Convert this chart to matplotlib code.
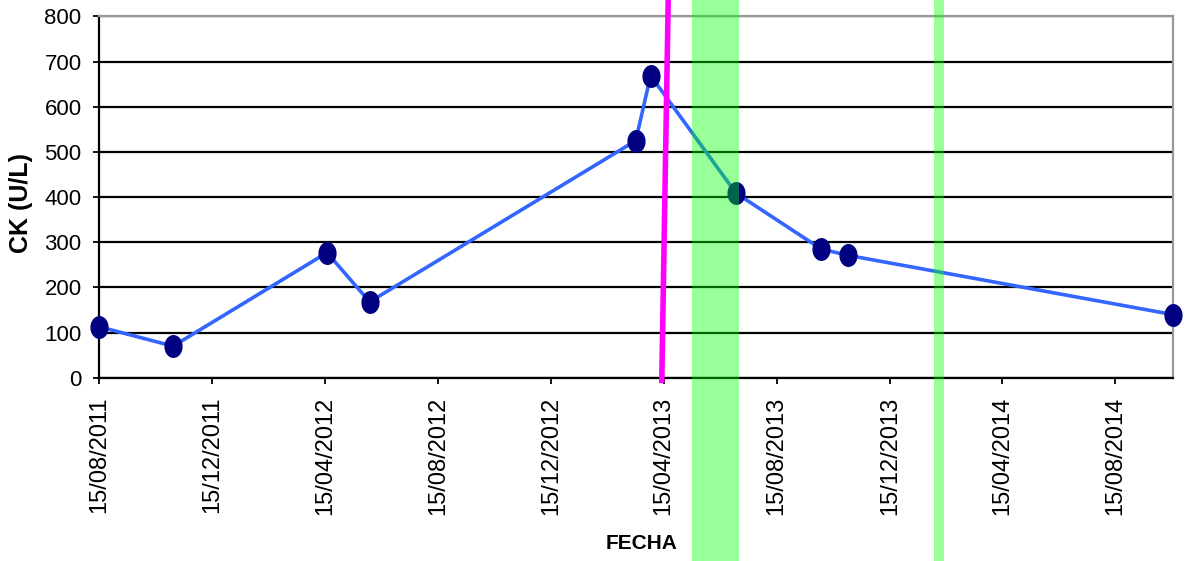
import datetime as dt
import numpy as np
import matplotlib
matplotlib.use("Agg")
import matplotlib.pyplot as plt
from matplotlib.path import Path

# --------------------------------------------------------
# Data
# --------------------------------------------------------
fechas = ["2011-08-15", "2011-11-03", "2012-04-17", "2012-06-02", "2013-03-16",
          "2013-04-01", "2013-07-02", "2013-10-02", "2013-10-31", "2014-10-16"]
ck = [113, 70, 277, 168, 525, 669, 409, 285, 271, 140]

tick_fechas = ["2011-08-15", "2011-12-15", "2012-04-15", "2012-08-15", "2012-12-15",
               "2013-04-15", "2013-08-15", "2013-12-15", "2014-04-15", "2014-08-15"]
tick_labels = ["15/08/2011", "15/12/2011", "15/04/2012", "15/08/2012", "15/12/2012",
               "15/04/2013", "15/08/2013", "15/12/2013", "15/04/2014", "15/08/2014"]
y_ticks = [0, 100, 200, 300, 400, 500, 600, 700, 800]

# periods shaded in green
bandas = [("2013-05-16", "2013-07-05"), ("2014-02-01", "2014-02-11")]
# slanted magenta marker line (start, end) as (date, value)
linea_magenta = [("2013-04-20", 837), ("2013-04-13", -12)]


def d(s):
    return dt.datetime.strptime(s, "%Y-%m-%d")


x = [d(s) for s in fechas]

# ellipse marker, taller than wide
t = np.linspace(0, 2 * np.pi, 60)
elipse = Path(np.column_stack([0.78 * np.cos(t), np.sin(t)]), closed=True)

fig = plt.figure(figsize=(11.88, 5.61), dpi=100)
ax = fig.add_axes([0.0833, 0.3267, 0.9037, 0.6439])

ax.set_xlim(d(fechas[0]), d(fechas[-1]))
ax.set_ylim(0, 800)

ax.set_yticks(y_ticks)
ax.yaxis.grid(True, color="black", linewidth=1.6, zorder=0)
ax.set_axisbelow(True)

ax.plot(x, ck, color="#3366FF", linewidth=2.6, marker=elipse, markersize=15.5,
        markerfacecolor="#000080", markeredgecolor="#000080", clip_on=False, zorder=3)

# magenta line
mx = [d(p[0]) for p in linea_magenta]
my = [p[1] for p in linea_magenta]
ax.plot(mx, my, color="#FF00FF", linewidth=4, clip_on=False, zorder=4,
        solid_capstyle="butt")

# green bands over everything, across the whole figure height
for a, b in bandas:
    ax.axvspan(d(a), d(b), ymin=-0.6, ymax=1.1, color="#00FF00", alpha=0.4,
               linewidth=0, clip_on=False, zorder=5)

ax.set_xticks([d(s) for s in tick_fechas])
ax.set_xticklabels(tick_labels, rotation=90, family=["Liberation Sans"], fontsize=17)
ax.set_yticklabels([str(v) for v in y_ticks], family=["Liberation Sans"], fontsize=16)

ax.tick_params(axis="x", direction="out", length=4.5, width=1.3, pad=9, colors="black")
ax.tick_params(axis="y", direction="out", length=4.5, width=1.3, pad=8, colors="black")

for s in ["left", "bottom"]:
    ax.spines[s].set_color("black")
    ax.spines[s].set_linewidth(1.6)
for s in ["top", "right"]:
    ax.spines[s].set_color("#999999")
    ax.spines[s].set_linewidth(1.6)

ax.set_ylabel("CK (U/L)", fontsize=18, fontweight="bold", family=["Liberation Sans"])
ax.yaxis.set_label_coords(-0.0615, 0.483)
ax.set_xlabel("FECHA", fontsize=15, fontweight="bold", family=["Liberation Sans"],
              va="center")
ax.xaxis.set_label_coords(0.505, -0.46)

fig.savefig("out.png", dpi=100)
